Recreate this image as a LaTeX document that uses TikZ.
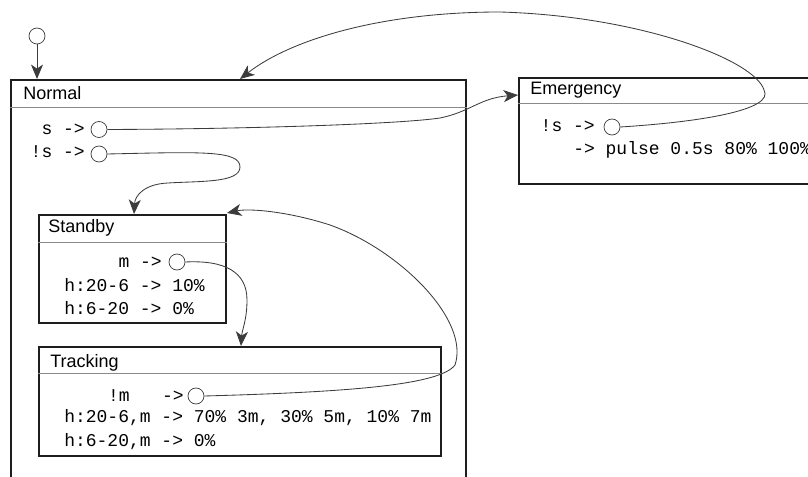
\documentclass[tikz,border=0pt]{standalone}
\usepackage{fontspec}
\usepackage{xcolor}
\usepackage{tikz}
\usetikzlibrary{arrows.meta}
\newfontfamily\titlefont{Liberation Sans}
\newfontfamily\codefont{Liberation Mono}
\definecolor{ink}{HTML}{1E1E1E}
\definecolor{wire}{HTML}{3C3C3C}
\definecolor{rulegray}{HTML}{8A8A8A}

\begin{document}
\begin{tikzpicture}[
    x=0.025cm, y=-0.025cm,
    state/.style={rectangle, draw=ink, line width=1.4pt, anchor=north west, inner sep=0pt},
    title/.style={anchor=base west, inner sep=0pt, font=\titlefont\fontsize{12.8}{15}\selectfont},
    code/.style={inner sep=0pt, font=\codefont\fontsize{12.8}{15}\selectfont},
    pseudo/.style={circle, draw=wire, line width=0.5pt, minimum size=0.4cm, inner sep=0pt},
    rule/.style={draw=rulegray, line width=0.6pt},
    trans/.style={-{Stealth[length=0.36cm, width=0.3cm, inset=0.1cm]}, line width=0.6pt, color=wire}
]
\clip (0,0) rectangle (808,477);

\node[state, minimum width=11.375cm, minimum height=10.3cm] (normal) at (10,79) {};
\node[state, minimum width=7.425cm, minimum height=2.65cm] (emergency) at (518,77) {};
\node[state, minimum width=4.675cm, minimum height=2.7cm] (standby) at (38,214) {};
\node[state, minimum width=10.05cm, minimum height=2.725cm] (tracking) at (38,346) {};

\draw[rule] ([yshift=-0.7cm]normal.north west) -- ([yshift=-0.7cm]normal.north east);
\draw[rule] ([yshift=-0.65cm]emergency.north west) -- ([yshift=-0.65cm]emergency.north east);
\draw[rule] ([yshift=-0.7cm]standby.north west) -- ([yshift=-0.7cm]standby.north east);
\draw[rule] ([yshift=-0.675cm]tracking.north west) -- ([yshift=-0.675cm]tracking.north east);

\node[title] (normal-title) at (23,100) {Normal};
\node[title] (emergency-title) at (530,95) {Emergency};
\node[title] (standby-title) at (48,233) {Standby};
\node[title] (tracking-title) at (50,368) {Tracking};

\node[code, anchor=base east] (s-guard) at (85,135) {s ->};
\node[pseudo] (s-dot) at (99,129.5) {};
\node[code, anchor=base east] (nots-guard) at (85,158) {!s ->};
\node[pseudo] (nots-dot) at (99,154) {};

\node[code, anchor=base east] (em-guard) at (595,132) {!s ->};
\node[pseudo] (em-dot) at (612,127) {};
\node[code, anchor=base west] (em-pulse) at (573,155) {-> pulse 0.5s 80\% 100\%};

\node[code, anchor=base east] (m-guard) at (162,268) {m ->};
\node[pseudo] (m-dot) at (177,262) {};
\node[code, anchor=base west] (sb-night) at (64,292) {h:20-6 -> 10\%};
\node[code, anchor=base west] (sb-day) at (64,315) {h:6-20 -> 0\%};

\node[code, anchor=base east] (notm-guard) at (184,402) {!m~~~->};
\node[pseudo] (notm-dot) at (196,396) {};
\node[code, anchor=base west] (tr-night) at (64,423) {h:20-6,m -> 70\% 3m, 30\% 5m, 10\% 7m};
\node[code, anchor=base west] (tr-day) at (64,447) {h:6-20,m -> 0\%};

\node[pseudo] (init) at (37,36) {};

\coordinate (normal-in) at (240,79);
\coordinate (emergency-in) at (518,95);
\coordinate (standby-in) at (134,214);
\coordinate (standby-back) at (227,213);
\coordinate (tracking-in) at (241,346);

\draw[trans] (init) -- (init |- normal.north);
\draw[trans] (s-dot.east) .. controls (250,129) and (400,124) .. (440,118)
    .. controls (470,112) and (480,98) .. (emergency-in);
\draw[trans] (em-dot.east) .. controls (700,122) and (775,110) .. (764,90)
    .. controls (755,60) and (640,16) .. (500,12)
    .. controls (380,12) and (290,40) .. (normal-in);
\draw[trans] (nots-dot.east) .. controls (200,152) and (240,150) .. (240,167)
    .. controls (240,183) and (200,181) .. (168,183)
    .. controls (145,184) and (135,195) .. (standby-in);
\draw[trans] (m-dot.east) .. controls (225,260) and (247,272) .. (247,300)
    .. controls (247,320) and (242,330) .. (tracking-in);
\draw[trans] (notm-dot.east) .. controls (350,392) and (440,385) .. (455,365)
    .. controls (470,320) and (400,250) .. (330,225)
    .. controls (290,212) and (250,208) .. (standby-back);
\end{tikzpicture}
\end{document}
